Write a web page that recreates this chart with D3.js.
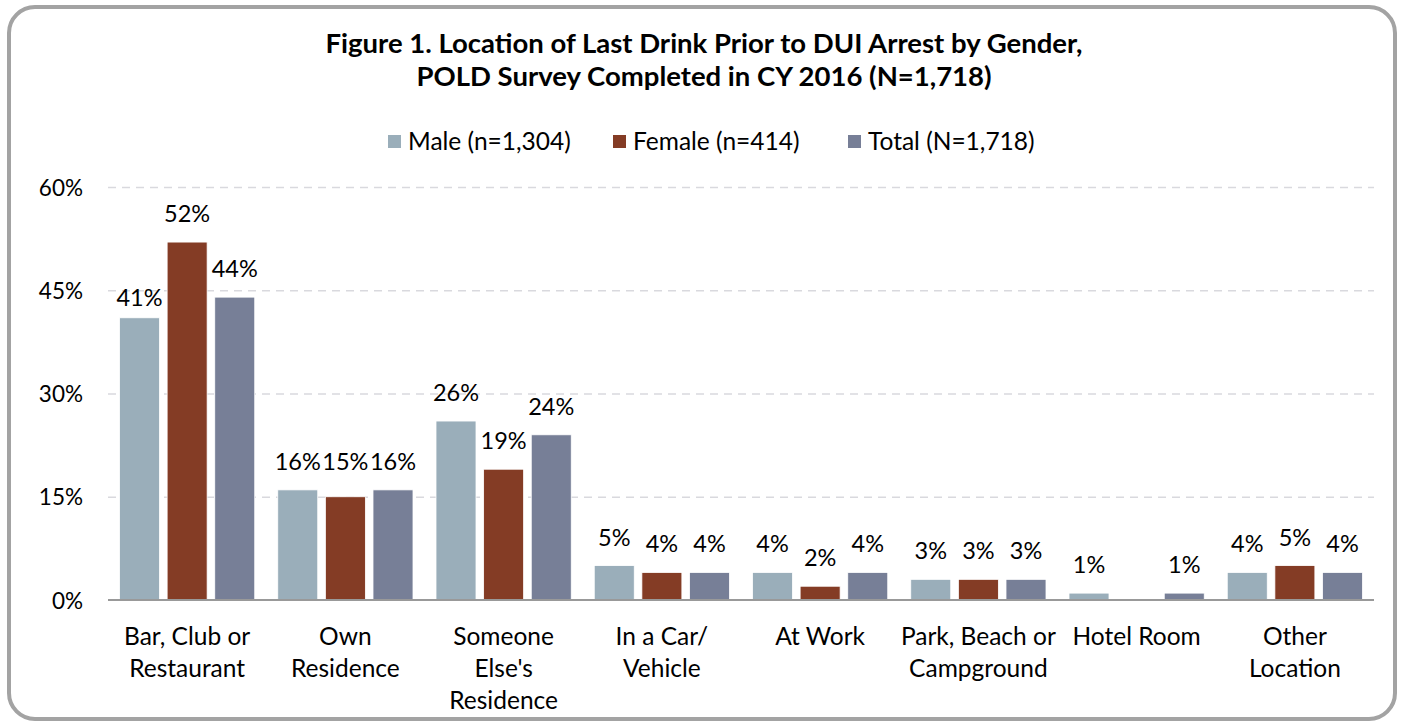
<!DOCTYPE html>
<html>
<head>
<meta charset="utf-8">
<script src="https://cdn.jsdelivr.net/npm/d3@7"></script>
<style>
  html, body { margin: 0; padding: 0; background: #fff; }
  svg { display: block; font-family: Lato, "Open Sans", sans-serif; }
</style>
</head>
<body>
<svg id="chart" width="1403" height="727"></svg>
<script>
const titleLines = ["Figure 1. Location of Last Drink Prior to DUI Arrest by Gender,",
                    "POLD Survey Completed in CY 2016 (N=1,718)"];
const categories = [
  ["Bar, Club or", "Restaurant"],
  ["Own", "Residence"],
  ["Someone", "Else's", "Residence"],
  ["In a Car/", "Vehicle"],
  ["At Work"],
  ["Park, Beach or", "Campground"],
  ["Hotel Room"],
  ["Other", "Location"]
];
const seriesNames = ["Male (n=1,304)", "Female (n=414)", "Total (N=1,718)"];
const maleValues   = [41, 16, 26, 5, 4, 3, 1, 4];
const femaleValues = [52, 15, 19, 4, 2, 3, 0, 5];
const totalValues  = [44, 16, 24, 4, 4, 3, 1, 4];
const yTicks = [0, 15, 30, 45, 60];
const colors = ["#9AAEBA", "#843C25", "#777F97"];

const svg = d3.select("#chart");
const catKeys = categories.map((c, i) => i);
const seriesValues = [maleValues, femaleValues, totalValues];

const margin = { left: 108, right: 1374, top: 187, bottom: 600 };
const x0 = d3.scaleBand().domain(catKeys).range([margin.left, margin.right]).padding(0);
const x1 = d3.scaleBand().domain([0, 1, 2])
  .range([11.5, x0.bandwidth() - 11.5]).paddingInner(0.16).paddingOuter(0);
const y = d3.scaleLinear().domain([0, 60]).range([margin.bottom, margin.top]);

// frame
svg.append("rect").attr("x", 9).attr("y", 7).attr("width", 1386).attr("height", 712)
  .attr("rx", 26).attr("ry", 26).attr("fill", "#fff")
  .attr("stroke", "#A3A3A3").attr("stroke-width", 4);

// title
svg.append("g").selectAll("text").data(titleLines).join("text")
  .attr("x", 704).attr("y", (d, i) => 53 + i * 33)
  .attr("text-anchor", "middle").attr("font-weight", "bold")
  .attr("font-size", 27.5).attr("fill", "#000").text(d => d);

// legend
const legendX = [388, 613, 848];
const lg = svg.append("g").selectAll("g").data(seriesNames).join("g")
  .attr("transform", (d, i) => `translate(${legendX[i]},135)`);
lg.append("rect").attr("width", 13).attr("height", 13).attr("fill", (d, i) => colors[i]);
lg.append("text").attr("x", 20).attr("y", 15).attr("font-size", 24.5).attr("fill", "#000").text(d => d);

// gridlines
const yAxis = d3.axisLeft(y).tickValues(yTicks).tickFormat(d => d + "%")
  .tickSize(-(margin.right - margin.left)).tickPadding(25);
const ga = svg.append("g").attr("transform", `translate(${margin.left},0)`).call(yAxis);
ga.select(".domain").remove();
ga.selectAll(".tick line").attr("stroke", "#D9D9DE").attr("stroke-width", 1.3)
  .attr("stroke-dasharray", "8,6")
  .filter(d => d === 0).remove();
ga.selectAll(".tick text").attr("font-size", 22.5).attr("fill", "#000")
  .attr("font-family", "Lato, sans-serif").attr("dy", "0.36em");

// bars
const groups = svg.append("g").selectAll("g").data(catKeys).join("g")
  .attr("transform", d => `translate(${x0(d)},0)`);
const cells = groups.selectAll("g").data(ci => [0, 1, 2].map(si => ({ ci, si, v: seriesValues[si][ci] })))
  .join("g");
cells.filter(d => d.v > 0).append("rect")
  .attr("x", d => x1(d.si)).attr("width", x1.bandwidth())
  .attr("y", d => y(d.v)).attr("height", d => y(0) - y(d.v))
  .attr("fill", d => colors[d.si]).attr("stroke", "#fff").attr("stroke-width", 0.8);

const nudge = { "0-0": 8, "1-1": -7 };
cells.filter(d => d.v > 0).append("text")
  .attr("x", d => x1(d.si) + x1.bandwidth() / 2)
  .attr("y", d => y(d.v) - 20 + (nudge[d.ci + "-" + d.si] || 0))
  .attr("text-anchor", "middle").attr("font-size", 23.5).attr("fill", "#000")
  .text(d => d.v + "%");

// x axis line
svg.append("line").attr("x1", margin.left).attr("x2", margin.right)
  .attr("y1", y(0)).attr("y2", y(0)).attr("stroke", "#999").attr("stroke-width", 2);

// category labels
const xl = svg.append("g").selectAll("text").data(catKeys).join("text")
  .attr("x", d => x0(d) + x0.bandwidth() / 2).attr("y", 645)
  .attr("text-anchor", "middle").attr("font-size", 24.5).attr("fill", "#000");
xl.selectAll("tspan").data(d => categories[d]).join("tspan")
  .attr("x", function () { return this.parentNode.getAttribute("x"); })
  .attr("dy", (d, i) => i === 0 ? 0 : 32).text(d => d);
</script>
</body>
</html>
